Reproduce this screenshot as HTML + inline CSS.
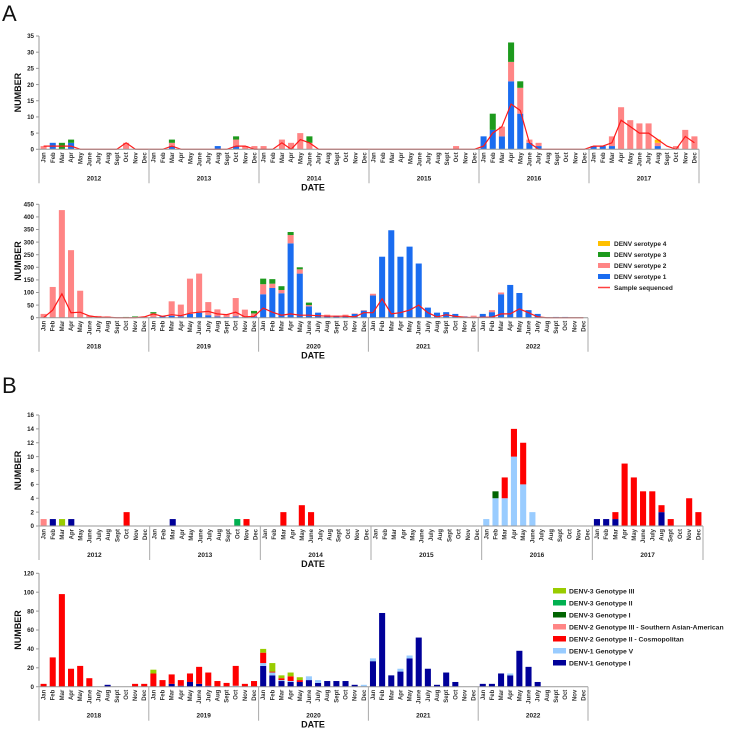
<!DOCTYPE html>
<html><head><meta charset="utf-8"><style>
html,body{margin:0;padding:0;background:#fff;}
svg{display:block;font-family:"Liberation Sans",Arial,sans-serif;}
</style></head><body>
<svg id="chart" width="735" height="729" viewBox="0 0 735 729">
<text x="2" y="21" font-size="22" fill="#111">A</text>
<text x="2" y="393" font-size="22" fill="#111">B</text>
</svg>
<script>
const months = ["Jan","Feb","Mar","Apr","May","June","July","Aug","Sept","Oct","Nov","Dec"];
const yearsA1 = ["2012","2013","2014","2015","2016","2017"];
const yearsA2 = ["2018","2019","2020","2021","2022"];
const ticksA1 = [0,5,10,15,20,25,30,35];
const ticksA2 = [0,50,100,150,200,250,300,350,400,450];
const ticksB1 = [0,2,4,6,8,10,12,14,16];
const ticksB2 = [0,20,40,60,80,100,120];

// Panel A1 serotypes 2012-2017
const a1Sero1 = [0,2,0,2,0,0,0,0,0,0,0,0, 0,0,1,0,0,0,0,1,0,1,0,0, 0,0,0,0,0,0,0,0,0,0,0,0, 0,0,0,0,0,0,0,0,0,0,0,0, 4,6,4,21,11,2,1,0,0,0,0,0, 1,1,1,0,0,0,0,1,0,0,0,0];
const a1Sero2 = [1,0,0,0,0,0,0,0,0,2,0,0, 0,0,1,0,0,0,0,0,0,2,1,1, 1,0,3,2,5,2,0,0,0,0,0,0, 0,0,0,0,0,0,0,0,0,1,0,0, 0,0,3,6,8,1,1,0,0,0,0,0, 0,0,3,13,9,8,8,1,0,1,6,4];
const a1Sero3 = [0,0,2,1,0,0,0,0,0,0,0,0, 0,0,1,0,0,0,0,0,0,1,0,0, 0,0,0,0,0,2,0,0,0,0,0,0, 0,0,0,0,0,0,0,0,0,0,0,0, 0,5,0,6,2,0,0,0,0,0,0,0, 0,0,0,0,0,0,0,0,0,0,0,0];
const a1Sero4 = [0,0,0,0,0,0,0,0,0,0,0,0, 0,0,0,0,0,0,0,0,0,0,0,0, 0,0,0,0,0,0,0,0,0,0,0,0, 0,0,0,0,0,0,0,0,0,0,0,0, 0,0,0,0,0,0,0,0,0,0,0,0, 0,0,0,0,0,0,0,1,0,0,0,0];
const a1Seq   = [1,1,1,1,0,0,0,0,0,2,0,0, 0,0,1,0,0,0,0,0,0,1,1,0, 0,0,2,0,3,2,0,0,0,0,0,0, 0,0,0,0,0,0,0,0,0,0,0,0, 1,5,7,14,12,2,0,0,0,0,0,0, 1,1,2,9,7,5,5,3,1,0,4,2];

// Panel A2 serotypes 2018-2022
const a2Sero1 = [0,0,0,0,0,0,0,0,0,0,0,0, 2,6,8,5,15,20,10,5,3,5,2,5, 93,118,97,295,175,45,20,5,5,6,15,28, 88,242,347,242,282,215,40,20,22,15,5,3, 15,22,93,130,98,30,15,2,3,3,0,0];
const a2Sero2 = [15,122,427,268,107,8,7,5,2,1,2,5, 15,2,57,47,140,155,52,28,12,73,30,12, 40,17,13,33,17,5,0,7,3,6,2,2, 7,0,0,0,0,0,0,0,0,0,0,5, 0,8,7,0,0,0,0,0,0,0,0,0];
const a2Sero3 = [0,0,0,0,0,0,0,0,0,2,3,0, 5,0,0,0,0,0,0,0,0,0,0,10, 22,18,15,12,8,10,0,0,0,0,0,0, 0,0,0,0,0,0,0,0,0,0,0,0, 0,0,0,0,0,0,0,0,0,0,0,0];
const a2Sero4 = [0,0,0,0,0,0,0,0,0,0,0,0, 0,0,0,0,0,0,0,0,0,0,0,0, 0,0,0,0,0,0,0,0,0,0,0,0, 0,0,0,0,0,0,0,0,0,0,0,0, 0,0,0,0,0,0,0,0,0,0,0,0];
const a2Seq   = [0,30,95,20,22,7,2,2,0,0,0,3, 15,5,12,8,18,22,25,15,12,22,3,5, 38,22,10,15,10,10,8,6,6,6,3,20, 20,75,15,20,30,50,20,3,12,5,2,0, 2,2,15,15,35,20,3,0,0,0,0,0];

// Panel B1 genotypes 2012-2017
const b1G1I   = [0,1,0,1,0,0,0,0,0,0,0,0, 0,0,1,0,0,0,0,0,0,0,0,0, 0,0,0,0,0,0,0,0,0,0,0,0, 0,0,0,0,0,0,0,0,0,0,0,0, 0,0,0,0,0,0,0,0,0,0,0,0, 1,1,1,0,0,0,0,2,0,0,0,0];
const b1G1V   = [0,0,0,0,0,0,0,0,0,0,0,0, 0,0,0,0,0,0,0,0,0,0,0,0, 0,0,0,0,0,0,0,0,0,0,0,0, 0,0,0,0,0,0,0,0,0,0,0,0, 1,4,4,10,6,2,0,0,0,0,0,0, 0,0,0,0,0,0,0,0,0,0,0,0];
const b1G2II  = [0,0,0,0,0,0,0,0,0,2,0,0, 0,0,0,0,0,0,0,0,0,0,1,0, 0,0,2,0,3,2,0,0,0,0,0,0, 0,0,0,0,0,0,0,0,0,0,0,0, 0,0,3,4,6,0,0,0,0,0,0,0, 0,0,1,9,7,5,5,1,1,0,4,2];
const b1G2III = [1,0,0,0,0,0,0,0,0,0,0,0, 0,0,0,0,0,0,0,0,0,0,0,0, 0,0,0,0,0,0,0,0,0,0,0,0, 0,0,0,0,0,0,0,0,0,0,0,0, 0,0,0,0,0,0,0,0,0,0,0,0, 0,0,0,0,0,0,0,0,0,0,0,0];
const b1G3I   = [0,0,0,0,0,0,0,0,0,0,0,0, 0,0,0,0,0,0,0,0,0,0,0,0, 0,0,0,0,0,0,0,0,0,0,0,0, 0,0,0,0,0,0,0,0,0,0,0,0, 0,1,0,0,0,0,0,0,0,0,0,0, 0,0,0,0,0,0,0,0,0,0,0,0];
const b1G3II  = [0,0,0,0,0,0,0,0,0,0,0,0, 0,0,0,0,0,0,0,0,0,1,0,0, 0,0,0,0,0,0,0,0,0,0,0,0, 0,0,0,0,0,0,0,0,0,0,0,0, 0,0,0,0,0,0,0,0,0,0,0,0, 0,0,0,0,0,0,0,0,0,0,0,0];
const b1G3III = [0,0,1,0,0,0,0,0,0,0,0,0, 0,0,0,0,0,0,0,0,0,0,0,0, 0,0,0,0,0,0,0,0,0,0,0,0, 0,0,0,0,0,0,0,0,0,0,0,0, 0,0,0,0,0,0,0,0,0,0,0,0, 0,0,0,0,0,0,0,0,0,0,0,0];

// Panel B2 genotypes 2018-2022
const b2G1I   = [0,0,0,0,0,0,0,2,0,0,0,0, 0,0,3,1,5,3,1,0,0,0,0,0, 22,12,6,5,5,7,4,6,6,6,2,0, 27,78,12,16,30,52,19,2,15,5,0,0, 3,3,14,12,38,21,5,0,0,0,0,0];
const b2G1V   = [0,0,0,0,0,0,0,0,0,0,0,0, 0,0,0,0,0,0,0,0,0,1,0,0, 3,3,1,1,0,4,3,0,0,0,0,2, 3,0,0,3,3,0,0,0,0,0,0,0, 0,0,0,2,0,0,0,0,0,0,0,0];
const b2G2II  = [3,31,98,19,22,9,0,0,0,0,3,3, 14,7,10,6,9,18,14,6,4,21,3,6, 11,1,2,5,2,0,0,0,0,0,0,0, 0,0,0,0,0,0,0,0,0,0,0,0, 0,0,0,0,0,0,0,0,0,0,0,0];
const b2G2III = [0,0,0,0,0,0,0,0,0,0,0,0, 0,0,0,0,0,0,0,0,0,0,0,0, 0,0,0,0,0,0,0,0,0,0,0,0, 0,0,0,0,0,0,0,0,0,0,0,0, 0,0,0,0,0,0,0,0,0,0,0,0];
const b2G3I   = [0,0,0,0,0,0,0,0,0,0,0,0, 0,0,0,0,0,0,0,0,0,0,0,0, 0,0,0,0,0,0,0,0,0,0,0,0, 0,0,0,0,0,0,0,0,0,0,0,0, 0,0,0,0,0,0,0,0,0,0,0,0];
const b2G3II  = [0,0,0,0,0,0,0,0,0,0,0,0, 0,0,0,0,0,0,0,0,0,0,0,0, 0,0,0,0,0,0,0,0,0,0,0,0, 0,0,0,0,0,0,0,0,0,0,0,0, 0,0,0,0,0,0,0,0,0,0,0,0];
const b2G3III = [0,0,0,0,0,0,0,0,0,0,0,0, 4,0,0,0,0,0,0,0,0,0,0,0, 4,9,3,4,3,0,0,0,0,0,0,0, 0,0,0,0,0,0,0,0,0,0,0,0, 0,0,0,0,0,0,0,0,0,0,0,0];

const legendA = ["DENV serotype 4","DENV serotype 3","DENV serotype 2","DENV serotype 1","Sample sequenced"];
const legendB = ["DENV-3 Genotype III","DENV-3 Genotype II","DENV-3 Genotype I","DENV-2 Genotype III - Southern Asian-American","DENV-2 Genotype II - Cosmopolitan","DENV-1 Genotype V","DENV-1 Genotype I"];

const C_S1="#1a6cf0", C_S2="#ff8585", C_S3="#1d9a1d", C_S4="#ffc000";
const C_G1I="#000099", C_G1V="#99ccff", C_G2II="#ff0000", C_G2III="#ff8585", C_G3I="#006400", C_G3II="#00b050", C_G3III="#99cc00";

const NS="http://www.w3.org/2000/svg";
const svg=document.getElementById('chart');
function mk(tag,attrs,parent){const e=document.createElementNS(NS,tag);for(const k in attrs)e.setAttribute(k,attrs[k]);(parent||svg).appendChild(e);return e;}

function drawPanel(p){
  const g=mk('g',{});
  
  
  const nM=p.years.length*12;
  const mw=(p.x1-p.x0)/nM;
  const maxT=p.ticks[p.ticks.length-1];
  const xc=i=>p.x0+mw*(i+0.5);
  const yv=v=>p.zero-(v/maxT)*(p.zero-p.top);
  // y axis
  const ya=mk('line',{x1:p.x0,y1:p.top,x2:p.x0,y2:p.zero,stroke:'#999','stroke-width':1},g);
  
  
  p.ticks.forEach(t=>{
    const y=yv(t);
    mk('line',{x1:p.x0-3,y1:y,x2:p.x0,y2:y,stroke:'#999','stroke-width':1},g);
    const tx=mk('text',{x:p.x0-5,y:y+2.2,'font-size':6.2,'font-weight':'bold','text-anchor':'end',fill:'#222'},g);
    tx.textContent=t;
    
    
  });
  const yt=mk('text',{x:0,y:0,'font-size':9,'font-weight':'bold','text-anchor':'middle',fill:'#111',transform:`translate(${p.x0-18},${(p.top+p.zero)/2}) rotate(-90)`},g);
  yt.textContent='NUMBER';
  
  
  // bars
  for(let i=0;i<nM;i++){
    let acc=0;
    p.series.forEach((s,si)=>{
      const v=s.data[i]; if(!v) return;
      const y0=yv(acc), y1=yv(acc+v); acc+=v;
      const r=mk('rect',{x:xc(i)-mw*0.33,y:y1,width:mw*0.66,height:y0-y1,fill:s.color},g);
      
      
    });
  }
  // line
  if(p.line){
    const pts=p.line.map((v,i)=>xc(i).toFixed(1)+','+yv(v).toFixed(1)).join(' ');
    const pl=mk('polyline',{points:pts,fill:'none',stroke:'#ff1a1a','stroke-width':1.2},g);
    
    
  }
  // x axis
  const xa=mk('line',{x1:p.x0,y1:p.zero,x2:p.x1,y2:p.zero,stroke:'#999','stroke-width':1},g);
  
  
  for(let i=0;i<nM;i++){
    const t=mk('text',{x:0,y:0,'font-size':6,'font-weight':'bold','text-anchor':'end',fill:'#333',transform:`translate(${xc(i)+2},${p.zero+3}) rotate(-90)`},g);
    t.textContent=months[i%12];
    
    
  }
  const yw=mw*12;
  for(let k=0;k<=p.years.length;k++){
    mk('line',{x1:p.x0+yw*k,y1:p.zero,x2:p.x0+yw*k,y2:p.zero+34,stroke:'#aaa','stroke-width':1},g);
  }
  p.years.forEach((yr,k)=>{
    const t=mk('text',{x:p.x0+yw*(k+0.5),y:p.zero+31,'font-size':6.5,'font-weight':'bold','text-anchor':'middle',fill:'#222'},g);
    t.textContent=yr;
    
    
  });
  const dt=mk('text',{x:313,y:p.zero+41,'font-size':9,'font-weight':'bold','text-anchor':'middle',fill:'#111'},g);
  dt.textContent='DATE';
  
  
}

const sA=(a,b,c,d)=>[{key:'serotype-1',color:C_S1,data:a},{key:'serotype-2',color:C_S2,data:b},{key:'serotype-3',color:C_S3,data:c},{key:'serotype-4',color:C_S4,data:d}];
const sB=(g1,g1v,g2,g2iii,g3,g3ii,g3iii)=>[{key:'denv1-gI',color:C_G1I,data:g1},{key:'denv1-gV',color:C_G1V,data:g1v},{key:'denv2-gII',color:C_G2II,data:g2},{key:'denv2-gIII',color:C_G2III,data:g2iii},{key:'denv3-gI',color:C_G3I,data:g3},{key:'denv3-gII',color:C_G3II,data:g3ii},{key:'denv3-gIII',color:C_G3III,data:g3iii}];

drawPanel({name:'chart-a-2012-2017',x0:39,x1:699,top:36,zero:149.3,years:yearsA1,ticks:ticksA1,series:sA(a1Sero1,a1Sero2,a1Sero3,a1Sero4),line:a1Seq});
drawPanel({name:'chart-a-2018-2022',x0:39,x1:588,top:204.3,zero:317.7,years:yearsA2,ticks:ticksA2,series:sA(a2Sero1,a2Sero2,a2Sero3,a2Sero4),line:a2Seq});
drawPanel({name:'chart-b-2012-2017',x0:39,x1:703,top:415,zero:526,years:yearsA1,ticks:ticksB1,series:sB(b1G1I,b1G1V,b1G2II,b1G2III,b1G3I,b1G3II,b1G3III)});
drawPanel({name:'chart-b-2018-2022',x0:39,x1:588,top:573.3,zero:686.7,years:yearsA2,ticks:ticksB2,series:sB(b2G1I,b2G1V,b2G2II,b2G2III,b2G3I,b2G3II,b2G3III)});

// Legend A
const colA=[C_S4,C_S3,C_S2,C_S1,null];
legendA.forEach((lab,i)=>{
  const y=244+i*11;
  if(colA[i]){const r=mk('rect',{x:598,y:y-3,width:12,height:5,fill:colA[i]});
    
    }
  else {const l=mk('line',{x1:598,y1:y-0.5,x2:610,y2:y-0.5,stroke:'#ff4040','stroke-width':1.5});
    
    }
  const t=mk('text',{x:614,y:y+2,'font-size':6.5,'font-weight':'bold',fill:'#222'});
  t.textContent=lab;
  
  
});
// Legend B
const colB=[C_G3III,C_G3II,C_G3I,C_G2III,C_G2II,C_G1V,C_G1I];
legendB.forEach((lab,i)=>{
  const y=591+i*12;
  const r=mk('rect',{x:553,y:y-3,width:13,height:5.5,fill:colB[i]});
  
  
  const t=mk('text',{x:569,y:y+2.5,'font-size':6.8,'font-weight':'bold',fill:'#222'});
  t.textContent=lab;
  
  
});
</script>
</body></html>
